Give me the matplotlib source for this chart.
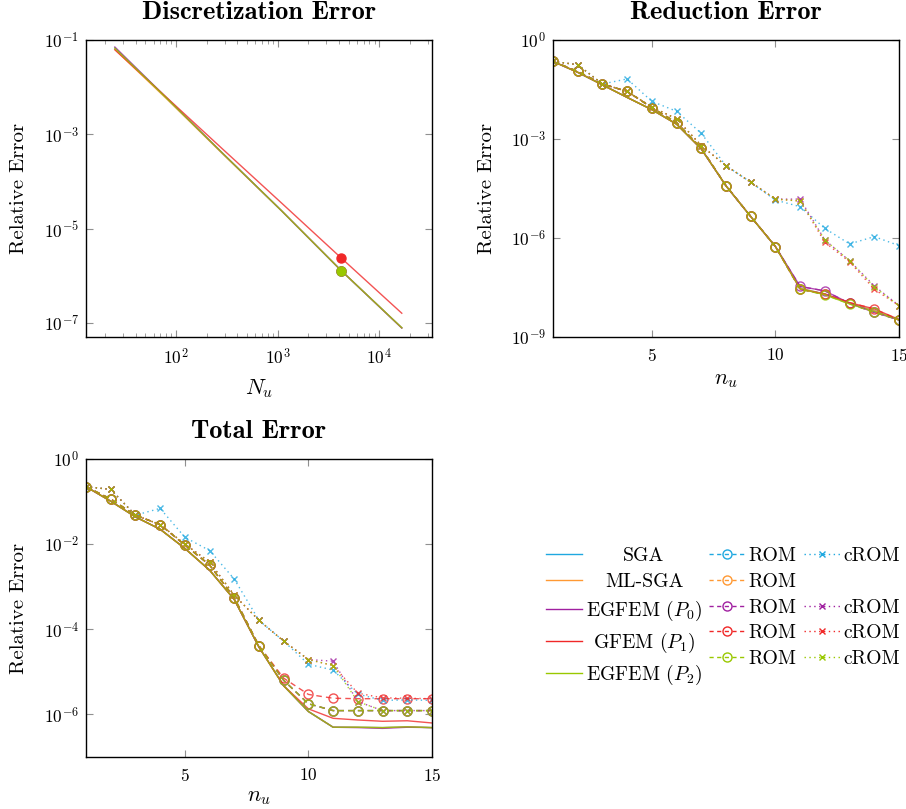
import numpy as np
import matplotlib
matplotlib.use("Agg")
import matplotlib.pyplot as plt
from matplotlib.lines import Line2D
from matplotlib.ticker import FixedLocator, FuncFormatter, LogLocator, NullFormatter, NullLocator

plt.rcParams['mathtext.fontset'] = 'cm'
plt.rcParams['font.family'] = ['cmr10']
plt.rcParams['axes.unicode_minus'] = False
plt.rcParams['axes.formatter.use_mathtext'] = True

# ---------------- data ----------------
methods = ["SGA", "ML-SGA", "EGFEM ($P_0$)", "GFEM ($P_1$)", "EGFEM ($P_2$)"]
colors = ["#1fa8e0", "#ff9933", "#a020a0", "#f02828", "#99c800"]
has_crom = [True, False, True, True, True]

N_u = [25, 81, 289, 1089, 4225, 16641]
chosen_idx = 4  # N_u = 4225
disc_err = [
    [6.8e-2, 5.8e-3, 3.9e-4, 2.4e-5, 1.28e-6, 7.8e-8],   # SGA
    [6.3e-2, 5.6e-3, 3.8e-4, 2.4e-5, 1.28e-6, 7.8e-8],   # ML-SGA
    [7.1e-2, 5.9e-3, 3.9e-4, 2.4e-5, 1.28e-6, 7.8e-8],   # EGFEM P0
    [6.2e-2, 6.0e-3, 4.8e-4, 3.5e-5, 2.37e-6, 1.6e-7],   # GFEM P1
    [6.7e-2, 5.8e-3, 3.9e-4, 2.4e-5, 1.28e-6, 7.9e-8],   # EGFEM P2
]

n_u = list(range(1, 16))

red_full = [
    [0.224, 0.105, 0.0437, 0.0182, 0.00776, 0.00282, 5.0e-4, 3.8e-5, 4.47e-6, 5.5e-7, 3.0e-8, 2.0e-8, 1.05e-8, 6.3e-9, 3.3e-9],
    [0.224, 0.105, 0.0437, 0.0182, 0.00776, 0.00282, 5.0e-4, 3.8e-5, 4.47e-6, 5.5e-7, 3.0e-8, 2.0e-8, 1.05e-8, 6.3e-9, 3.3e-9],
    [0.224, 0.105, 0.0437, 0.0182, 0.00776, 0.00282, 5.0e-4, 3.8e-5, 4.47e-6, 5.5e-7, 3.4e-8, 2.5e-8, 1.05e-8, 5.6e-9, 3.3e-9],
    [0.224, 0.105, 0.0437, 0.0182, 0.00776, 0.00282, 5.0e-4, 3.8e-5, 4.47e-6, 5.5e-7, 2.8e-8, 2.0e-8, 1.1e-8, 7.1e-9, 3.4e-9],
    [0.224, 0.105, 0.0437, 0.0182, 0.00776, 0.00282, 5.0e-4, 3.8e-5, 4.47e-6, 5.5e-7, 2.9e-8, 1.9e-8, 1.0e-8, 6.0e-9, 3.3e-9],
]
red_rom = [
    [0.225, 0.112, 0.0465, 0.0277, 0.00891, 0.00316, 5.25e-4, 3.85e-5, 4.5e-6, 5.5e-7, 2.8e-8, 2.0e-8, 1.05e-8, 5.6e-9, 3.3e-9],
    [0.225, 0.112, 0.0465, 0.0277, 0.00891, 0.00316, 5.25e-4, 3.85e-5, 4.5e-6, 5.5e-7, 2.8e-8, 2.0e-8, 1.05e-8, 5.6e-9, 3.3e-9],
    [0.225, 0.112, 0.0465, 0.0277, 0.00891, 0.00316, 5.25e-4, 3.85e-5, 4.5e-6, 5.5e-7, 3.4e-8, 2.5e-8, 1.05e-8, 5.6e-9, 3.3e-9],
    [0.225, 0.112, 0.0465, 0.0277, 0.00891, 0.00316, 5.25e-4, 3.85e-5, 4.5e-6, 5.5e-7, 2.8e-8, 2.0e-8, 1.1e-8, 7.1e-9, 3.3e-9],
    [0.225, 0.112, 0.0465, 0.0277, 0.00891, 0.00316, 5.25e-4, 3.85e-5, 4.5e-6, 5.5e-7, 2.8e-8, 1.9e-8, 1.0e-8, 5.6e-9, 3.3e-9],
]
red_crom = [
    [0.225, 0.178, 0.0465, 0.0661, 0.0138, 0.00692, 0.00148, 1.55e-4, 4.9e-5, 1.41e-5, 8.9e-6, 1.95e-6, 6.6e-7, 1.1e-6, 5.9e-7],
    None,
    [0.225, 0.178, 0.0465, 0.0277, 0.00933, 0.00407, 6.3e-4, 1.55e-4, 4.9e-5, 1.51e-5, 1.51e-5, 8.7e-7, 2.04e-7, 3.55e-8, 8.9e-9],
    [0.225, 0.178, 0.0465, 0.0277, 0.00933, 0.00407, 6.3e-4, 1.55e-4, 4.9e-5, 1.51e-5, 1.32e-5, 7.4e-7, 1.9e-7, 2.8e-8, 8.9e-9],
    [0.225, 0.178, 0.0465, 0.0277, 0.00933, 0.00407, 6.3e-4, 1.55e-4, 4.9e-5, 1.51e-5, 1.32e-5, 8.7e-7, 2.04e-7, 3.3e-8, 8.9e-9],
]

tot_full = [
    [0.224, 0.102, 0.0437, 0.0224, 0.00794, 0.00245, 5.0e-4, 3.8e-5, 4.7e-6, 1.17e-6, 5.0e-7, 5.0e-7, 4.9e-7, 5.1e-7, 4.9e-7],
    [0.224, 0.102, 0.0437, 0.0224, 0.00794, 0.00245, 5.0e-4, 3.8e-5, 4.7e-6, 1.17e-6, 5.0e-7, 5.0e-7, 4.9e-7, 5.1e-7, 4.9e-7],
    [0.224, 0.102, 0.0437, 0.0224, 0.00794, 0.00245, 5.0e-4, 3.8e-5, 4.7e-6, 1.17e-6, 5.0e-7, 4.9e-7, 4.7e-7, 5.0e-7, 4.9e-7],
    [0.224, 0.102, 0.0437, 0.0224, 0.00794, 0.00245, 5.0e-4, 3.8e-5, 4.7e-6, 1.35e-6, 8.1e-7, 7.4e-7, 6.9e-7, 7.1e-7, 6.3e-7],
    [0.224, 0.102, 0.0437, 0.0224, 0.00794, 0.00245, 5.0e-4, 3.8e-5, 4.7e-6, 1.17e-6, 5.0e-7, 5.0e-7, 4.9e-7, 5.1e-7, 4.9e-7],
]
tot_rom = [
    [0.224, 0.115, 0.0479, 0.0288, 0.00955, 0.00324, 5.5e-4, 4.07e-5, 6.3e-6, 1.78e-6, 1.23e-6, 1.23e-6, 1.23e-6, 1.23e-6, 1.23e-6],
    [0.224, 0.115, 0.0479, 0.0288, 0.00955, 0.00324, 5.5e-4, 4.07e-5, 6.3e-6, 1.78e-6, 1.23e-6, 1.23e-6, 1.23e-6, 1.23e-6, 1.23e-6],
    [0.224, 0.115, 0.0479, 0.0288, 0.00955, 0.00324, 5.5e-4, 4.07e-5, 6.3e-6, 1.78e-6, 1.23e-6, 1.23e-6, 1.23e-6, 1.23e-6, 1.23e-6],
    [0.224, 0.115, 0.0479, 0.0288, 0.00955, 0.00324, 5.5e-4, 4.07e-5, 7.1e-6, 2.95e-6, 2.4e-6, 2.34e-6, 2.34e-6, 2.34e-6, 2.34e-6],
    [0.224, 0.115, 0.0479, 0.0288, 0.00955, 0.00324, 5.5e-4, 4.07e-5, 6.3e-6, 1.78e-6, 1.23e-6, 1.23e-6, 1.23e-6, 1.23e-6, 1.23e-6],
]
tot_crom = [
    [0.224, 0.193, 0.0479, 0.0692, 0.0145, 0.00708, 0.00151, 1.62e-4, 5.25e-5, 1.51e-5, 1.1e-5, 3.0e-6, 2.14e-6, 2.19e-6, 2.14e-6],
    None,
    [0.224, 0.193, 0.0479, 0.0288, 0.0100, 0.0038, 6.3e-4, 1.62e-4, 5.25e-5, 1.95e-5, 1.78e-5, 2.0e-6, 1.23e-6, 1.23e-6, 1.23e-6],
    [0.224, 0.193, 0.0479, 0.0288, 0.0100, 0.0038, 6.3e-4, 1.62e-4, 5.25e-5, 1.95e-5, 1.41e-5, 3.16e-6, 2.45e-6, 2.4e-6, 2.34e-6],
    [0.224, 0.193, 0.0479, 0.0288, 0.0100, 0.0038, 6.3e-4, 1.62e-4, 5.25e-5, 1.95e-5, 1.41e-5, 2.0e-6, 1.23e-6, 1.23e-6, 1.23e-6],
]

# ---------------- styling helpers ----------------
LW = 1.0
ALPHA = 0.8
TICK_FS = 12.5
LABEL_FS = 15
TITLE_FS = 19


def sci_fmt(v, pos):
    if v <= 0:
        return ""
    return r"$\mathrm{10^{%d}}$" % int(round(np.log10(v)))


def style_axes(ax):
    ax.tick_params(which="both", direction="in", top=True, right=True,
                   color="#909090", labelsize=TICK_FS)
    ax.tick_params(which="major", length=5, width=0.8)
    ax.tick_params(which="minor", length=3, width=0.6)
    ax.tick_params(axis="x", pad=7)
    ax.tick_params(axis="y", pad=5)
    for s in ax.spines.values():
        s.set_linewidth(1.0)
        s.set_color("black")


W, H = 906, 809
fig = plt.figure(figsize=(W / 100, H / 100), dpi=100)


def box(x0, y0, x1, y1):
    return [x0 / W, 1 - y1 / H, (x1 - x0) / W, (y1 - y0) / H]


ax1 = fig.add_axes(box(86, 40, 432, 337))
ax2 = fig.add_axes(box(553, 40, 899, 337))
ax3 = fig.add_axes(box(86, 459, 432, 757))

# ---- discretization error ----
for m in range(5):
    ax1.plot(N_u, disc_err[m], color=colors[m], lw=LW, alpha=ALPHA)
for m in range(5):
    ax1.plot([N_u[chosen_idx]], [disc_err[m][chosen_idx]], 'o', color=colors[m],
             ms=6.5, mec=colors[m])
ax1.set_xscale("log")
ax1.set_yscale("log")
ax1.set_xlim(13, 33000)
ax1.set_ylim(10 ** -7.3, 1e-1)
ax1.yaxis.set_major_locator(FixedLocator([1e-1, 1e-3, 1e-5, 1e-7]))
ax1.yaxis.set_minor_locator(NullLocator())
ax1.yaxis.set_major_formatter(FuncFormatter(sci_fmt))
ax1.xaxis.set_major_locator(FixedLocator([1e2, 1e3, 1e4]))
ax1.xaxis.set_minor_locator(LogLocator(base=10, subs=np.arange(2, 10)))
ax1.xaxis.set_major_formatter(FuncFormatter(sci_fmt))
ax1.xaxis.set_minor_formatter(NullFormatter())
ax1.set_title("Discretization Error", family="cmb10", fontsize=TITLE_FS, pad=15)
ax1.set_xlabel(r"$N_u$", fontsize=LABEL_FS + 1, labelpad=7)
ax1.set_ylabel("Relative Error", fontsize=LABEL_FS, labelpad=11)
style_axes(ax1)


def draw_rom_axes(ax, full, rom, crom, title, ylim, yticks, xlabelpad):
    for m in range(5):
        ax.plot(n_u, full[m], color=colors[m], lw=LW, alpha=ALPHA)
    for m in range(5):
        ax.plot(n_u, rom[m], color=colors[m], lw=LW, ls=(0, (4, 3)),
                marker='o', ms=6.5, mfc='none', mew=1.0, alpha=ALPHA)
    for m in range(5):
        if crom[m] is not None:
            ax.plot(n_u, crom[m], color=colors[m], lw=LW, ls=(0, (1, 2.5)),
                    marker='x', ms=5, mew=1.0, alpha=ALPHA)
    ax.set_yscale("log")
    ax.set_xlim(1, 15)
    ax.set_ylim(*ylim)
    ax.yaxis.set_major_locator(FixedLocator(yticks))
    ax.yaxis.set_minor_locator(NullLocator())
    ax.yaxis.set_major_formatter(FuncFormatter(sci_fmt))
    ax.xaxis.set_major_locator(FixedLocator([5, 10, 15]))
    ax.set_title(title, family="cmb10", fontsize=TITLE_FS, pad=15)
    ax.set_xlabel(r"$n_u$", fontsize=LABEL_FS + 1, labelpad=xlabelpad)
    ax.set_ylabel("Relative Error", fontsize=LABEL_FS, labelpad=11)
    style_axes(ax)


draw_rom_axes(ax2, red_full, red_rom, red_crom, "Reduction Error",
              (1e-9, 1.0), [1.0, 1e-3, 1e-6, 1e-9], 5)
draw_rom_axes(ax3, tot_full, tot_rom, tot_crom, "Total Error",
              (1e-7, 1.0), [1.0, 1e-2, 1e-4, 1e-6], 3)

# ---- legend ----
col1 = [Line2D([], [], color=c, lw=LW) for c in colors]
col2 = [Line2D([], [], color=c, lw=LW, ls=(0, (3, 2.5)), marker='o', ms=6.5,
               mfc='none', mew=1.0) for c in colors]
col3 = []
lab3 = []
for c, h in zip(colors, has_crom):
    if h:
        col3.append(Line2D([], [], color=c, lw=LW, ls=(0, (1, 2.5)), marker='x',
                           ms=5, mew=1.0))
        lab3.append("cROM")
    else:
        col3.append(Line2D([], [], color='none', lw=0))
        lab3.append(" ")
handles = col1 + col2 + col3
labels = methods + ["ROM"] * 5 + lab3
leg = fig.legend(handles, labels, ncol=3, loc="center left",
                 bbox_to_anchor=(546 / W, 1 - 617 / H), frameon=False,
                 fontsize=14.2, handlelength=1.83, handletextpad=0.2,
                 columnspacing=0.35, labelspacing=0.39, borderpad=0.0,
                 borderaxespad=0.0)

fig.canvas.draw()
texts = leg.get_texts()[:5]
widths = [t.get_window_extent().width for t in texts]
wmax = max(widths)
for t, w in zip(texts, widths):
    t.set_x((wmax - w) / 2.0)

fig.savefig("out.png", dpi=100)
